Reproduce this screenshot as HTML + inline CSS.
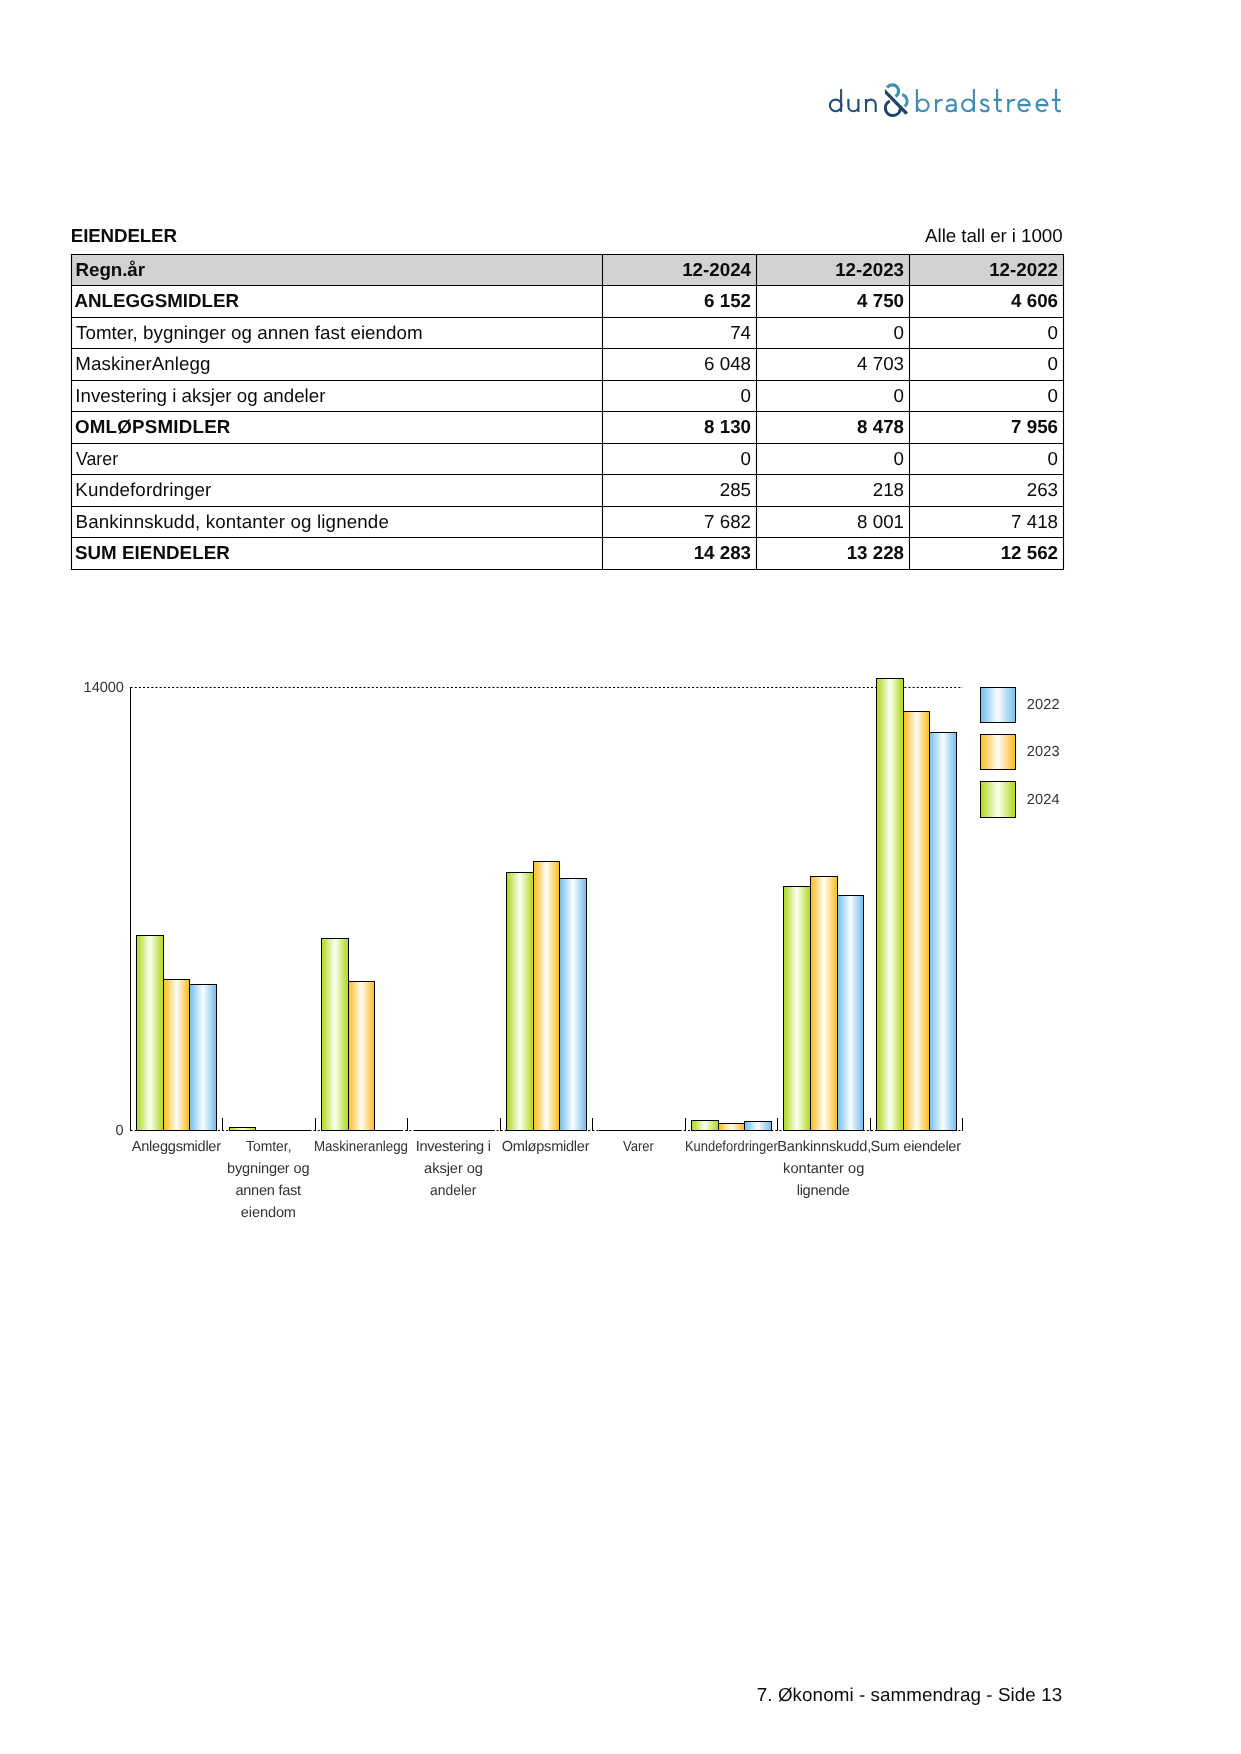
<!DOCTYPE html>
<html><head><meta charset="utf-8"><title>Eiendeler</title>
<style>
html,body{margin:0;padding:0;background:#fff;}
body{width:1241px;height:1754px;position:relative;overflow:hidden;font-family:"Liberation Sans",sans-serif;color:#0c0c0c;}
#tx{position:absolute;left:0;top:0;width:1241px;height:1754px;will-change:transform;text-rendering:geometricPrecision;}
.t{position:absolute;white-space:nowrap;font-size:18.75px;line-height:22px;}
.b{font-weight:bold;}
.r{text-align:right;}
.cl{position:absolute;font-size:14.58px;line-height:22px;color:#333;white-space:nowrap;}
svg{position:absolute;left:0;top:0;}
</style></head><body>

<svg width="1241" height="1754" viewBox="0 0 1241 1754">
<defs>
<linearGradient id="gg" x1="0" x2="1" y1="0" y2="0"><stop offset="0" stop-color="#b5da2c"/><stop offset="0.07" stop-color="#b8dc36"/><stop offset="0.5" stop-color="#fdfff4"/><stop offset="0.93" stop-color="#b8dc36"/><stop offset="1" stop-color="#b5da2c"/></linearGradient>
<linearGradient id="go" x1="0" x2="1" y1="0" y2="0"><stop offset="0" stop-color="#fbc02a"/><stop offset="0.07" stop-color="#fcc336"/><stop offset="0.5" stop-color="#fffdf8"/><stop offset="0.93" stop-color="#fcc336"/><stop offset="1" stop-color="#fbc02a"/></linearGradient>
<linearGradient id="gb" x1="0" x2="1" y1="0" y2="0"><stop offset="0" stop-color="#79c3ef"/><stop offset="0.07" stop-color="#82c7f0"/><stop offset="0.5" stop-color="#fafdff"/><stop offset="0.93" stop-color="#82c7f0"/><stop offset="1" stop-color="#79c3ef"/></linearGradient>
</defs>
<rect x="71.5" y="254.5" width="992.0" height="31" fill="#d2d2d2"/>
<line x1="70.95" x2="1064.05" y1="254.5" y2="254.5" stroke="#000" stroke-width="1.1"/>
<line x1="70.95" x2="1064.05" y1="285.5" y2="285.5" stroke="#000" stroke-width="1.1"/>
<line x1="70.95" x2="1064.05" y1="317.5" y2="317.5" stroke="#000" stroke-width="1.1"/>
<line x1="70.95" x2="1064.05" y1="348.5" y2="348.5" stroke="#000" stroke-width="1.1"/>
<line x1="70.95" x2="1064.05" y1="380.5" y2="380.5" stroke="#000" stroke-width="1.1"/>
<line x1="70.95" x2="1064.05" y1="411.5" y2="411.5" stroke="#000" stroke-width="1.1"/>
<line x1="70.95" x2="1064.05" y1="443.5" y2="443.5" stroke="#000" stroke-width="1.1"/>
<line x1="70.95" x2="1064.05" y1="474.5" y2="474.5" stroke="#000" stroke-width="1.1"/>
<line x1="70.95" x2="1064.05" y1="506.5" y2="506.5" stroke="#000" stroke-width="1.1"/>
<line x1="70.95" x2="1064.05" y1="537.5" y2="537.5" stroke="#000" stroke-width="1.1"/>
<line x1="70.95" x2="1064.05" y1="569.5" y2="569.5" stroke="#000" stroke-width="1.1"/>
<line x1="71.5" x2="71.5" y1="254.5" y2="569.5" stroke="#000" stroke-width="1.1"/>
<line x1="602.5" x2="602.5" y1="254.5" y2="569.5" stroke="#000" stroke-width="1.1"/>
<line x1="756.5" x2="756.5" y1="254.5" y2="569.5" stroke="#000" stroke-width="1.1"/>
<line x1="909.5" x2="909.5" y1="254.5" y2="569.5" stroke="#000" stroke-width="1.1"/>
<line x1="1063.5" x2="1063.5" y1="254.5" y2="569.5" stroke="#000" stroke-width="1.1"/>
<line x1="130.5" x2="962.82" y1="687.5" y2="687.5" stroke="#000" stroke-width="1" stroke-dasharray="2.08 2.08"/>
<line x1="130.5" x2="962.82" y1="1130.5" y2="1130.5" stroke="#000" stroke-width="1" stroke-dasharray="2.08 2.08"/>
<line x1="130.5" x2="130.5" y1="687.0" y2="1131.0" stroke="#000" stroke-width="1"/>
<line x1="222.5" x2="222.5" y1="1118.0" y2="1131.0" stroke="#000" stroke-width="1"/>
<line x1="315.5" x2="315.5" y1="1118.0" y2="1131.0" stroke="#000" stroke-width="1"/>
<line x1="407.5" x2="407.5" y1="1118.0" y2="1131.0" stroke="#000" stroke-width="1"/>
<line x1="500.5" x2="500.5" y1="1118.0" y2="1131.0" stroke="#000" stroke-width="1"/>
<line x1="592.5" x2="592.5" y1="1118.0" y2="1131.0" stroke="#000" stroke-width="1"/>
<line x1="685.5" x2="685.5" y1="1118.0" y2="1131.0" stroke="#000" stroke-width="1"/>
<line x1="777.5" x2="777.5" y1="1118.0" y2="1131.0" stroke="#000" stroke-width="1"/>
<line x1="870.5" x2="870.5" y1="1118.0" y2="1131.0" stroke="#000" stroke-width="1"/>
<line x1="962.5" x2="962.5" y1="1118.0" y2="1131.0" stroke="#000" stroke-width="1"/>
<rect x="136.5" y="935.5" width="27.0" height="195.0" fill="url(#gg)" stroke="#000" stroke-width="1"/>
<rect x="163.5" y="979.5" width="26.0" height="151.0" fill="url(#go)" stroke="#000" stroke-width="1"/>
<rect x="189.5" y="984.5" width="27.0" height="146.0" fill="url(#gb)" stroke="#000" stroke-width="1"/>
<rect x="229.5" y="1127.5" width="26.0" height="3.0" fill="url(#gg)" stroke="#000" stroke-width="1"/>
<line x1="255.0" x2="283.0" y1="1130.5" y2="1130.5" stroke="#000" stroke-width="1"/>
<line x1="282.0" x2="310.0" y1="1130.5" y2="1130.5" stroke="#000" stroke-width="1"/>
<rect x="321.5" y="938.5" width="27.0" height="192.0" fill="url(#gg)" stroke="#000" stroke-width="1"/>
<rect x="348.5" y="981.5" width="26.0" height="149.0" fill="url(#go)" stroke="#000" stroke-width="1"/>
<line x1="374.0" x2="402.0" y1="1130.5" y2="1130.5" stroke="#000" stroke-width="1"/>
<line x1="414.0" x2="441.0" y1="1130.5" y2="1130.5" stroke="#000" stroke-width="1"/>
<line x1="440.0" x2="468.0" y1="1130.5" y2="1130.5" stroke="#000" stroke-width="1"/>
<line x1="467.0" x2="495.0" y1="1130.5" y2="1130.5" stroke="#000" stroke-width="1"/>
<rect x="506.5" y="872.5" width="27.0" height="258.0" fill="url(#gg)" stroke="#000" stroke-width="1"/>
<rect x="533.5" y="861.5" width="26.0" height="269.0" fill="url(#go)" stroke="#000" stroke-width="1"/>
<rect x="559.5" y="878.5" width="27.0" height="252.0" fill="url(#gb)" stroke="#000" stroke-width="1"/>
<line x1="599.0" x2="626.0" y1="1130.5" y2="1130.5" stroke="#000" stroke-width="1"/>
<line x1="625.0" x2="653.0" y1="1130.5" y2="1130.5" stroke="#000" stroke-width="1"/>
<line x1="652.0" x2="680.0" y1="1130.5" y2="1130.5" stroke="#000" stroke-width="1"/>
<rect x="691.5" y="1120.5" width="27.0" height="10.0" fill="url(#gg)" stroke="#000" stroke-width="1"/>
<rect x="718.5" y="1123.5" width="26.0" height="7.0" fill="url(#go)" stroke="#000" stroke-width="1"/>
<rect x="744.5" y="1121.5" width="27.0" height="9.0" fill="url(#gb)" stroke="#000" stroke-width="1"/>
<rect x="783.5" y="886.5" width="27.0" height="244.0" fill="url(#gg)" stroke="#000" stroke-width="1"/>
<rect x="810.5" y="876.5" width="27.0" height="254.0" fill="url(#go)" stroke="#000" stroke-width="1"/>
<rect x="837.5" y="895.5" width="26.0" height="235.0" fill="url(#gb)" stroke="#000" stroke-width="1"/>
<rect x="876.5" y="678.5" width="27.0" height="452.0" fill="url(#gg)" stroke="#000" stroke-width="1"/>
<rect x="903.5" y="711.5" width="26.0" height="419.0" fill="url(#go)" stroke="#000" stroke-width="1"/>
<rect x="929.5" y="732.5" width="27.0" height="398.0" fill="url(#gb)" stroke="#000" stroke-width="1"/>
<rect x="980.5" y="687.5" width="35" height="35" fill="url(#gb)" stroke="#000" stroke-width="1"/>
<rect x="980.5" y="734.5" width="35" height="35" fill="url(#go)" stroke="#000" stroke-width="1"/>
<rect x="980.5" y="781.5" width="35" height="36" fill="url(#gg)" stroke="#000" stroke-width="1"/>
</svg>
<svg width="1241" height="140" viewBox="0 0 1241 140" style="position:absolute;left:0;top:0" fill="none">
<g stroke="#234e75" stroke-width="2.1">
<circle cx="835.7" cy="105.4" r="5.8"/><path d="M841.1,89.1 V111.9"/>
<path d="M848.4,99 V106.3 A5,5 0 0 0 858.4,106.3 M858.4,99 V111.9"/>
<path d="M866,99 V111.9 M866,104.5 A4.85,4.9 0 0 1 875.7,104.5 V111.9"/>
</g>
<path d="M887.20,87.62 A6.2,6.2 0 1 1 895.41,96.42" stroke="#3f8fb3" stroke-width="3.2"/>
<path d="M902.10,94.47 A6.9,6.9 0 0 1 904.54,106.46" stroke="#4497ae" stroke-width="3.0"/>
<path d="M889.80,101.20 A7.5,7.5 0 1 0 900.33,108.57" stroke="#1c4568" stroke-width="3.1"/>
<polygon points="884.9,89.0 908.0,112.6 905.4,114.7 884.9,93.5" fill="#1c4568"/>
<g stroke="#3c8cb5" stroke-width="2.1">
<path d="M916.9,89.1 V111.9"/><circle cx="922.75" cy="105.4" r="5.85"/>
<path d="M936,99 V111.9 M936,105.6 C936,101.8 938.4,99.7 942.6,99.9"/>
<path d="M946.9,101.6 C948,100.2 949.6,99.55 951.2,99.55 C954.2,99.55 955.7,101.4 955.7,104.4 V111.9 M955.7,105.2 H951.2 C948.2,105.2 946.6,106.5 946.6,108.3 C946.6,110.1 948.1,111.3 950.5,111.3 C953.6,111.3 955.7,109.4 955.7,106.6"/>
<circle cx="968.0" cy="105.4" r="5.85"/><path d="M973.9,89.1 V111.9"/>
<path d="M988.3,101.6 C987.6,100.3 986.3,99.55 984.6,99.55 C982.5,99.55 981.2,100.7 981.2,102.3 C981.2,106.2 988.6,104.3 988.6,108.4 C988.6,110.1 987.1,111.3 984.8,111.3 C982.8,111.3 981.3,110.4 980.5,108.9"/>
<path d="M997.1,89.1 V108.6 C997.1,110.6 998.3,111.4 1001.8,111.0 M993.8,99.85 H1001.8"/>
<path d="M1008.2,99 V111.9 M1008.2,105.6 C1008.2,101.8 1010.6,99.7 1015.2,99.9"/>
<path d="M1018.35,105.1 H1029.74 A5.7,5.85 0 1 0 1028.29,109.31"/>
<path d="M1036.55,105.1 H1047.44 A5.45,5.85 0 1 0 1046.05,109.31"/>
<path d="M1056,89.1 V108.6 C1056,110.6 1057.2,111.4 1060.9,111.0 M1051.8,99.85 H1060.5"/>
</g></svg>
<div id="tx">
<div class="t b" style="left:70.80px;top:225px;letter-spacing:-0.138px;">EIENDELER</div>
<div class="t" style="left:925.10px;top:225px;letter-spacing:-0.061px;">Alle tall er i 1000</div>
<div class="t b" style="left:75.60px;top:258.5px;letter-spacing:-0.067px;">Regn.år</div>
<div class="t b" style="left:74.50px;top:289.5px;letter-spacing:-0.008px;">ANLEGGSMIDLER</div>
<div class="t" style="left:76.00px;top:321.5px;letter-spacing:0.042px;">Tomter, bygninger og annen fast eiendom</div>
<div class="t" style="left:75.30px;top:352.5px;letter-spacing:0.054px;">MaskinerAnlegg</div>
<div class="t" style="left:75.30px;top:384.5px;letter-spacing:0.000px;">Investering i aksjer og andeler</div>
<div class="t b" style="left:74.90px;top:415.5px;letter-spacing:0.218px;">OMLØPSMIDLER</div>
<div class="t" style="left:76.30px;top:447.5px;transform:scaleX(0.9455);transform-origin:0 0;">Varer</div>
<div class="t" style="left:75.30px;top:478.5px;letter-spacing:0.107px;">Kundefordringer</div>
<div class="t" style="left:75.50px;top:510.5px;letter-spacing:0.141px;">Bankinnskudd, kontanter og lignende</div>
<div class="t b" style="left:74.90px;top:541.5px;letter-spacing:0.058px;">SUM EIENDELER</div>
<div class="t" style="left:756.80px;top:1684px;letter-spacing:0.097px;">7. Økonomi - sammendrag - Side 13</div>
<div class="cl" style="left:131.80px;top:1136px;letter-spacing:-0.258px;">Anleggsmidler</div>
<div class="cl" style="left:246.10px;top:1136px;transform:scaleX(0.9532);transform-origin:0 0;">Tomter,</div>
<div class="cl" style="left:227.00px;top:1158px;letter-spacing:-0.164px;">bygninger og</div>
<div class="cl" style="left:235.40px;top:1180px;letter-spacing:-0.267px;">annen fast</div>
<div class="cl" style="left:240.80px;top:1202px;letter-spacing:-0.117px;">eiendom</div>
<div class="cl" style="left:313.89px;top:1136px;transform:scaleX(0.9129);transform-origin:0 0;">Maskineranlegg</div>
<div class="cl" style="left:415.70px;top:1136px;letter-spacing:-0.283px;">Investering i</div>
<div class="cl" style="left:424.10px;top:1158px;letter-spacing:-0.038px;">aksjer og</div>
<div class="cl" style="left:430.05px;top:1180px;transform:scaleX(0.9521);transform-origin:0 0;">andeler</div>
<div class="cl" style="left:501.70px;top:1136px;letter-spacing:-0.264px;">Omløpsmidler</div>
<div class="cl" style="left:622.80px;top:1136px;transform:scaleX(0.8943);transform-origin:0 0;">Varer</div>
<div class="cl" style="left:684.61px;top:1136px;transform:scaleX(0.8865);transform-origin:0 0;">Kundefordringer</div>
<div class="cl" style="left:777.20px;top:1136px;letter-spacing:-0.133px;">Bankinnskudd,</div>
<div class="cl" style="left:783.10px;top:1158px;letter-spacing:0.009px;">kontanter og</div>
<div class="cl" style="left:796.70px;top:1180px;letter-spacing:-0.271px;">lignende</div>
<div class="cl" style="left:870.50px;top:1136px;letter-spacing:-0.292px;">Sum eiendeler</div>
<div class="cl" style="left:83.60px;top:677px;letter-spacing:-0.075px;">14000</div>
<div class="cl" style="left:115.60px;top:1120px;letter-spacing:0.000px;">0</div>
<div class="cl" style="left:1026.70px;top:694px;letter-spacing:0.133px;">2022</div>
<div class="cl" style="left:1026.70px;top:741px;letter-spacing:0.133px;">2023</div>
<div class="cl" style="left:1026.70px;top:788.5px;letter-spacing:0.133px;">2024</div>
<div class="t b r" style="right:490.0px;top:258.5px;">12-2024</div>
<div class="t b r" style="right:337.0px;top:258.5px;">12-2023</div>
<div class="t b r" style="right:183.0px;top:258.5px;">12-2022</div>
<div class="t b r" style="right:490.0px;top:289.5px;">6 152</div>
<div class="t b r" style="right:337.0px;top:289.5px;">4 750</div>
<div class="t b r" style="right:183.0px;top:289.5px;">4 606</div>
<div class="t r" style="right:490.0px;top:321.5px;">74</div>
<div class="t r" style="right:337.0px;top:321.5px;">0</div>
<div class="t r" style="right:183.0px;top:321.5px;">0</div>
<div class="t r" style="right:490.0px;top:352.5px;">6 048</div>
<div class="t r" style="right:337.0px;top:352.5px;">4 703</div>
<div class="t r" style="right:183.0px;top:352.5px;">0</div>
<div class="t r" style="right:490.0px;top:384.5px;">0</div>
<div class="t r" style="right:337.0px;top:384.5px;">0</div>
<div class="t r" style="right:183.0px;top:384.5px;">0</div>
<div class="t b r" style="right:490.0px;top:415.5px;">8 130</div>
<div class="t b r" style="right:337.0px;top:415.5px;">8 478</div>
<div class="t b r" style="right:183.0px;top:415.5px;">7 956</div>
<div class="t r" style="right:490.0px;top:447.5px;">0</div>
<div class="t r" style="right:337.0px;top:447.5px;">0</div>
<div class="t r" style="right:183.0px;top:447.5px;">0</div>
<div class="t r" style="right:490.0px;top:478.5px;">285</div>
<div class="t r" style="right:337.0px;top:478.5px;">218</div>
<div class="t r" style="right:183.0px;top:478.5px;">263</div>
<div class="t r" style="right:490.0px;top:510.5px;">7 682</div>
<div class="t r" style="right:337.0px;top:510.5px;">8 001</div>
<div class="t r" style="right:183.0px;top:510.5px;">7 418</div>
<div class="t b r" style="right:490.0px;top:541.5px;">14 283</div>
<div class="t b r" style="right:337.0px;top:541.5px;">13 228</div>
<div class="t b r" style="right:183.0px;top:541.5px;">12 562</div>
</div>
</body></html>
